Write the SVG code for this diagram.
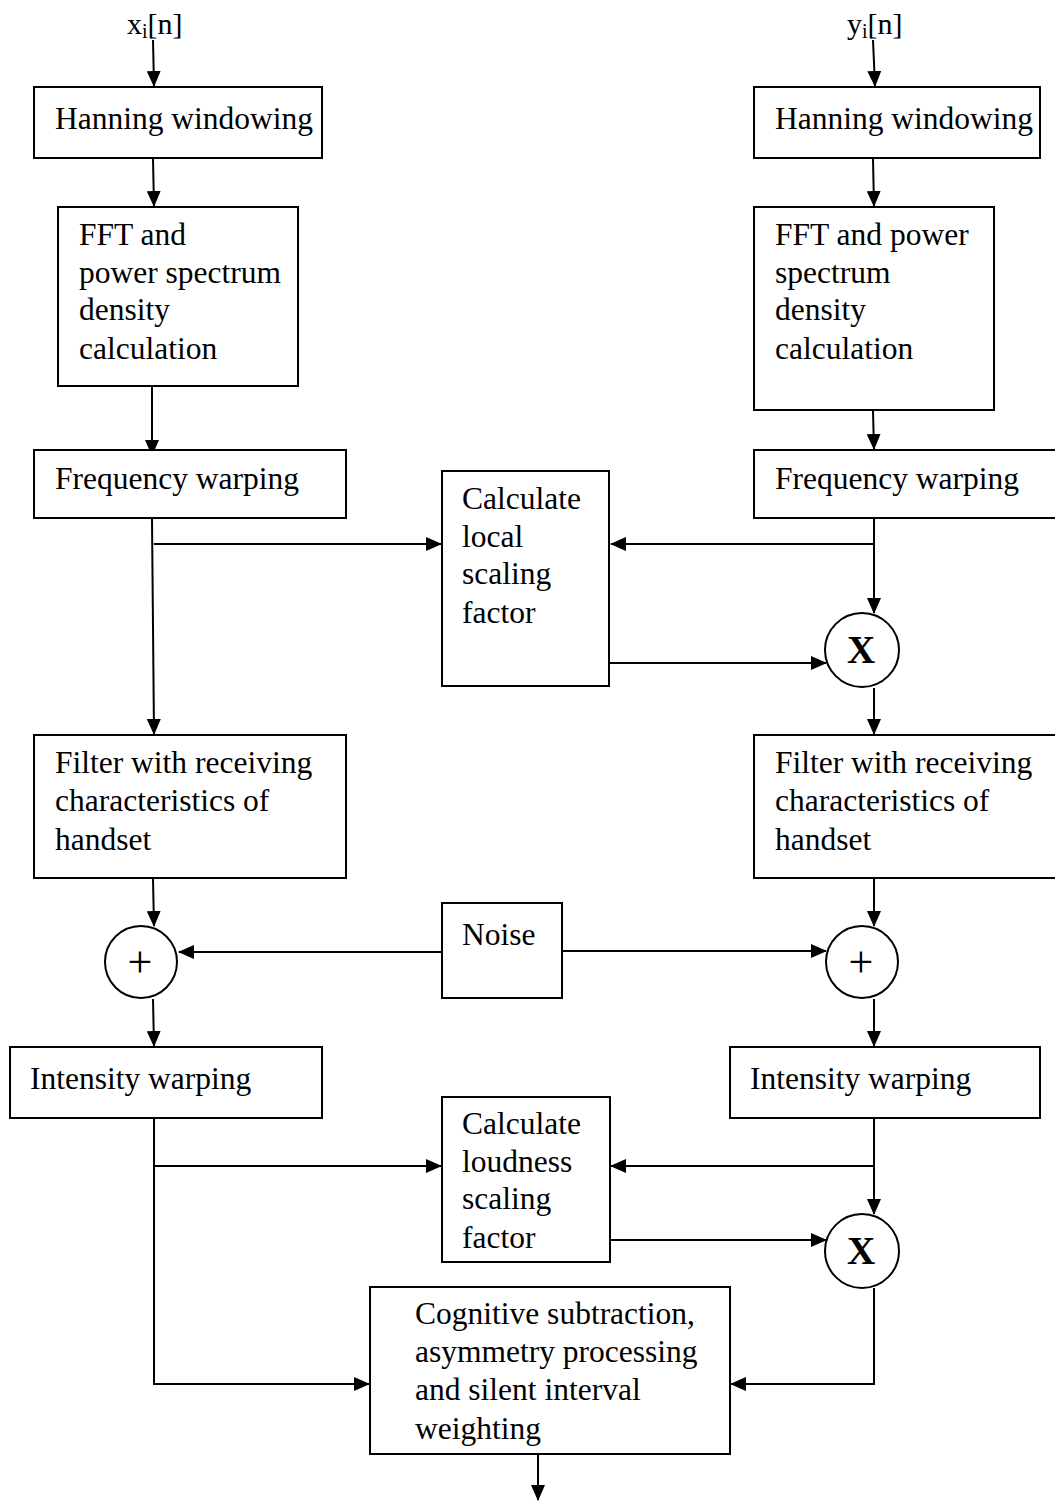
<svg xmlns="http://www.w3.org/2000/svg" width="1055" height="1501" viewBox="0 0 1055 1501">
  <style>
    .box { fill: #fff; stroke: #000; stroke-width: 2; }
    .sum { fill: #fff; stroke: #000; stroke-width: 2; }
    .lbl { font-family: "Liberation Serif", "Times New Roman", serif; font-size: 31.5px; fill: #000; }
    .sig { font-family: "Liberation Serif", "Times New Roman", serif; font-size: 30px; fill: #000; }
    .op { font-family: "Liberation Serif", "Times New Roman", serif; font-size: 39px; font-weight: bold; fill: #000; }
    .plus { font-family: "Liberation Serif", "Times New Roman", serif; font-size: 44px; fill: #000; }
    .wire { fill: none; stroke: #000; stroke-width: 2; }
    .arr { marker-end: url(#head); }
  </style>
  <defs>
    <marker id="head" markerUnits="userSpaceOnUse" markerWidth="16" markerHeight="14" refX="15" refY="7" orient="auto">
      <path d="M0,0 L16,7 L0,14 Z" fill="#000"/>
    </marker>
  </defs>

  <rect width="1055" height="1501" fill="#fff"/>

  <!-- connectors -->
  <g id="connectors">
    <!-- left chain -->
    <line class="wire arr" x1="153" y1="40" x2="154" y2="86"/>
    <line class="wire arr" x1="153" y1="159" x2="154" y2="206"/>
    <line class="wire arr" x1="152" y1="387" x2="152" y2="455"/>
    <line class="wire arr" x1="152" y1="519" x2="154" y2="734"/>
    <line class="wire arr" x1="154" y1="544" x2="441" y2="544"/>
    <line class="wire arr" x1="153" y1="879" x2="154" y2="926"/>
    <line class="wire arr" x1="153" y1="999" x2="154" y2="1046"/>
    <polyline class="wire arr" points="154,1119 154,1384 369,1384"/>
    <line class="wire arr" x1="154" y1="1166" x2="441" y2="1166"/>

    <!-- right chain -->
    <line class="wire arr" x1="873" y1="40" x2="875" y2="86"/>
    <line class="wire arr" x1="873" y1="159" x2="874" y2="206"/>
    <line class="wire arr" x1="873" y1="411" x2="874" y2="449"/>
    <line class="wire arr" x1="874" y1="519" x2="874" y2="613"/>
    <line class="wire arr" x1="874" y1="544" x2="611" y2="544"/>
    <line class="wire arr" x1="610" y1="663" x2="826" y2="663"/>
    <line class="wire arr" x1="874" y1="688" x2="874" y2="734"/>
    <line class="wire arr" x1="874" y1="879" x2="874" y2="926"/>
    <line class="wire arr" x1="874" y1="999" x2="874" y2="1046"/>
    <line class="wire arr" x1="874" y1="1119" x2="874" y2="1214"/>
    <line class="wire arr" x1="874" y1="1166" x2="611" y2="1166"/>
    <line class="wire arr" x1="610" y1="1240" x2="826" y2="1240"/>
    <polyline class="wire arr" points="874,1288 874,1384 731,1384"/>

    <!-- noise feeds -->
    <line class="wire arr" x1="442" y1="952" x2="179" y2="952"/>
    <line class="wire arr" x1="562" y1="951" x2="826" y2="951"/>

    <!-- output -->
    <line class="wire arr" x1="538" y1="1455" x2="538" y2="1500"/>
  </g>

  <!-- input labels -->
  <g id="in-x">
    <text class="sig" x="127" y="34">x<tspan font-size="20" dy="4">i</tspan><tspan dy="-4">[n]</tspan></text>
  </g>
  <g id="in-y">
    <text class="sig" x="847" y="34">y<tspan font-size="20" dy="4">i</tspan><tspan dy="-4">[n]</tspan></text>
  </g>

  <!-- left column -->
  <g id="hann-l">
    <rect class="box" x="34" y="87" width="288" height="71"/>
    <text class="lbl" x="55" y="129">Hanning windowing</text>
  </g>
  <g id="fft-l">
    <rect class="box" x="58" y="207" width="240" height="179"/>
    <text class="lbl" x="79" y="245">FFT and</text>
    <text class="lbl" x="79" y="283">power spectrum</text>
    <text class="lbl" x="79" y="320">density</text>
    <text class="lbl" x="79" y="359">calculation</text>
  </g>
  <g id="freq-l">
    <rect class="box" x="34" y="450" width="312" height="68"/>
    <text class="lbl" x="55" y="489">Frequency warping</text>
  </g>
  <g id="filt-l">
    <rect class="box" x="34" y="735" width="312" height="143"/>
    <text class="lbl" x="55" y="773">Filter with receiving</text>
    <text class="lbl" x="55" y="811">characteristics of</text>
    <text class="lbl" x="55" y="850">handset</text>
  </g>
  <g id="sum-l">
    <circle class="sum" cx="141" cy="962" r="36"/>
    <text class="plus" x="140" y="977" text-anchor="middle">+</text>
  </g>
  <g id="int-l">
    <rect class="box" x="10" y="1047" width="312" height="71"/>
    <text class="lbl" x="30" y="1089">Intensity  warping</text>
  </g>

  <!-- middle column -->
  <g id="local-scale">
    <rect class="box" x="442" y="471" width="167" height="215"/>
    <text class="lbl" x="462" y="509">Calculate</text>
    <text class="lbl" x="462" y="547">local</text>
    <text class="lbl" x="462" y="584">scaling</text>
    <text class="lbl" x="462" y="623">factor</text>
  </g>
  <g id="noise">
    <rect class="box" x="442" y="903" width="120" height="95"/>
    <text class="lbl" x="462" y="945">Noise</text>
  </g>
  <g id="loud-scale">
    <rect class="box" x="442" y="1097" width="168" height="165"/>
    <text class="lbl" x="462" y="1134">Calculate</text>
    <text class="lbl" x="462" y="1172">loudness</text>
    <text class="lbl" x="462" y="1209">scaling</text>
    <text class="lbl" x="462" y="1248">factor</text>
  </g>
  <g id="cognitive">
    <rect class="box" x="370" y="1287" width="360" height="167"/>
    <text class="lbl" x="415" y="1324">Cognitive subtraction,</text>
    <text class="lbl" x="415" y="1362">asymmetry processing</text>
    <text class="lbl" x="415" y="1400">and silent interval</text>
    <text class="lbl" x="415" y="1439">weighting</text>
  </g>

  <!-- right column -->
  <g id="hann-r">
    <rect class="box" x="754" y="87" width="286" height="71"/>
    <text class="lbl" x="775" y="129">Hanning windowing</text>
  </g>
  <g id="fft-r">
    <rect class="box" x="754" y="207" width="240" height="203"/>
    <text class="lbl" x="775" y="245">FFT and power</text>
    <text class="lbl" x="775" y="283">spectrum</text>
    <text class="lbl" x="775" y="320">density</text>
    <text class="lbl" x="775" y="359">calculation</text>
  </g>
  <g id="freq-r">
    <rect class="box" x="754" y="450" width="312" height="68"/>
    <text class="lbl" x="775" y="489">Frequency warping</text>
  </g>
  <g id="mul-1">
    <circle class="sum" cx="862" cy="650" r="37"/>
    <text class="op" x="861" y="663" text-anchor="middle">X</text>
  </g>
  <g id="filt-r">
    <rect class="box" x="754" y="735" width="312" height="143"/>
    <text class="lbl" x="775" y="773">Filter with receiving</text>
    <text class="lbl" x="775" y="811">characteristics of</text>
    <text class="lbl" x="775" y="850">handset</text>
  </g>
  <g id="sum-r">
    <circle class="sum" cx="862" cy="962" r="36"/>
    <text class="plus" x="861" y="977" text-anchor="middle">+</text>
  </g>
  <g id="int-r">
    <rect class="box" x="730" y="1047" width="310" height="71"/>
    <text class="lbl" x="750" y="1089">Intensity  warping</text>
  </g>
  <g id="mul-2">
    <circle class="sum" cx="862" cy="1251" r="37"/>
    <text class="op" x="861" y="1264" text-anchor="middle">X</text>
  </g>
</svg>
